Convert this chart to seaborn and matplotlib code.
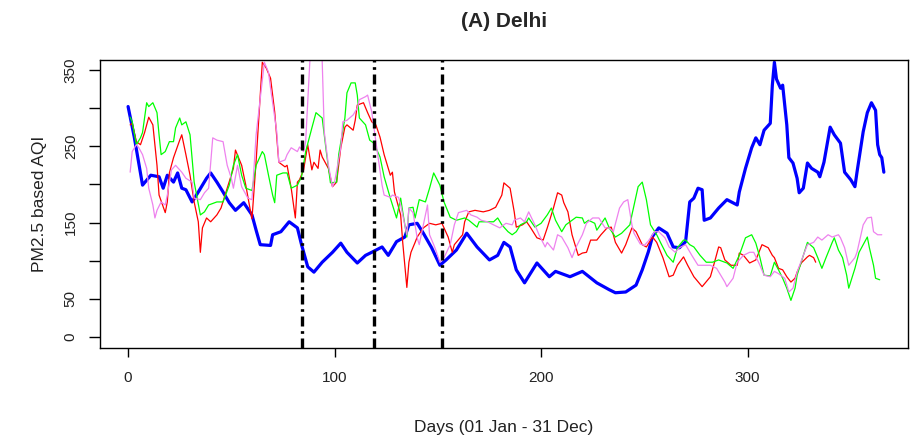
import matplotlib
matplotlib.use("Agg")
import matplotlib.pyplot as plt
import seaborn as sns
import pandas as pd

# Daily PM2.5 based AQI, Delhi (day of year, AQI)
blue_days = [0, 3, 7, 11, 15, 17, 19, 22, 24, 26, 28, 31, 34, 38, 40, 43, 46, 49, 52, 56,
             60, 62, 64, 69, 70, 74, 78, 82, 84, 87, 90, 94, 99, 103, 106, 111, 115, 118, 123, 126,
             130, 134, 136, 140, 143, 147, 151, 154, 159, 164, 169, 175, 179, 182, 185, 188, 192, 198, 204, 207,
             214, 220, 227, 233, 236, 241, 246, 249, 252, 254, 257, 261, 264, 267, 270, 272, 274, 276, 278, 279,
             282, 286, 290, 295, 296, 299, 302, 304, 306, 308, 311, 312, 313, 314, 316, 317, 319, 320, 322, 324,
             325, 327, 329, 331, 334, 335, 337, 340, 342, 345, 347, 350, 352, 353, 356, 358, 360, 362, 363, 364,
             365, 366]
blue_aqi = [302, 262, 199, 212, 210, 195, 212, 203, 215, 195, 193, 177, 190, 208, 215, 203, 190, 176, 166, 176,
            160, 140, 121, 120, 134, 138, 151, 143, 121, 92, 85, 98, 111, 123, 111, 97, 107, 111, 118, 107,
            125, 131, 147, 149, 136, 117, 94, 101, 114, 136, 118, 101, 107, 124, 118, 88, 71, 97, 79, 86,
            79, 86, 71, 62, 58, 59, 68, 88, 112, 132, 143, 136, 118, 117, 125, 177, 182, 195, 193, 153,
            156, 169, 180, 173, 190, 221, 248, 261, 252, 271, 280, 330, 360, 338, 326, 330, 278, 235, 228, 208,
            189, 195, 228, 221, 216, 210, 229, 275, 265, 254, 216, 206, 197, 216, 269, 294, 307, 297, 252, 239,
            235, 216]

red_days = [1, 2, 4, 6, 8, 10, 12, 14, 15, 18, 19, 20, 22, 25, 26, 28, 30, 32, 34, 35,
            36, 38, 40, 43, 45, 48, 51, 52, 55, 57, 59, 60, 62, 64, 65, 67, 69, 71, 73, 76,
            77, 79, 81, 82, 83, 85, 87, 89, 90, 92, 93, 94, 97, 99, 101, 103, 105, 106, 109, 110,
            111, 114, 116, 118, 120, 122, 124, 127, 128, 129, 132, 133, 135, 136, 137, 139, 140, 143, 146, 149,
            152, 155, 157, 158, 162, 163, 165, 168, 172, 175, 178, 181, 182, 185, 187, 188, 191, 193, 195, 198,
            201, 203, 206, 208, 210, 211, 213, 215, 218, 220, 222, 224, 227, 229, 232, 234, 236, 239, 241, 244,
            246, 249, 251, 254, 256, 259, 262, 264, 266, 269, 271, 274, 278, 282, 284, 286, 287, 289, 292, 295,
            296, 298, 301, 304, 307, 310, 312, 313, 315, 317, 319, 321, 323, 324, 326, 329, 330, 332, 333]
red_aqi = [278, 280, 256, 252, 268, 288, 278, 225, 186, 163, 177, 215, 235, 258, 265, 239, 212, 177, 151, 111,
           143, 156, 151, 160, 169, 195, 221, 245, 225, 199, 169, 155, 230, 317, 360, 352, 339, 295, 229, 223,
           225, 195, 156, 203, 206, 219, 252, 219, 229, 221, 245, 236, 221, 197, 203, 248, 275, 278, 271, 284,
           304, 307, 294, 282, 278, 262, 239, 212, 216, 190, 160, 124, 65, 98, 111, 124, 131, 143, 149, 147,
           149, 131, 111, 121, 134, 151, 164, 166, 164, 166, 170, 186, 202, 195, 164, 144, 147, 151, 143, 130,
           127, 143, 169, 189, 186, 176, 164, 134, 107, 110, 111, 127, 127, 134, 143, 144, 124, 110, 121, 143,
           138, 121, 118, 131, 124, 104, 79, 81, 94, 105, 94, 79, 66, 79, 98, 118, 117, 101, 94, 94,
           110, 107, 97, 101, 121, 117, 107, 104, 90, 88, 79, 72, 77, 85, 97, 105, 107, 104, 98]

green_days = [1, 2, 4, 6, 7, 9, 10, 12, 14, 15, 16, 18, 20, 22, 23, 25, 26, 28, 30, 32,
              35, 37, 39, 43, 46, 49, 51, 53, 55, 57, 60, 62, 65, 66, 68, 70, 71, 72, 75, 77,
              79, 82, 84, 86, 89, 91, 94, 96, 98, 101, 102, 105, 106, 108, 110, 111, 112, 115, 117, 119,
              122, 124, 127, 130, 132, 133, 135, 136, 138, 139, 141, 144, 146, 148, 151, 153, 156, 159, 163, 165,
              169, 170, 174, 177, 179, 181, 184, 186, 188, 190, 193, 194, 197, 200, 203, 205, 207, 210, 212, 215,
              217, 220, 221, 223, 226, 227, 231, 233, 236, 239, 243, 244, 247, 249, 251, 253, 256, 258, 261, 264,
              266, 269, 270, 272, 274, 277, 280, 283, 286, 290, 293, 296, 299, 302, 304, 306, 308, 311, 313, 315,
              317, 319, 321, 323, 324, 327, 329, 332, 334, 336, 338, 341, 342, 344, 346, 348, 349, 352, 354, 358,
              359, 361, 362, 364]
green_aqi = [288, 282, 252, 261, 268, 307, 302, 307, 294, 265, 239, 243, 256, 256, 274, 287, 278, 282, 265, 203,
             160, 164, 173, 177, 177, 199, 225, 239, 212, 195, 192, 225, 243, 239, 212, 186, 176, 212, 215, 215,
             195, 199, 210, 243, 274, 294, 287, 243, 202, 203, 239, 287, 320, 333, 333, 317, 287, 278, 258, 254,
             236, 210, 182, 156, 182, 164, 131, 169, 170, 156, 180, 177, 195, 215, 199, 177, 157, 153, 156, 153,
             144, 151, 151, 151, 156, 147, 138, 134, 138, 147, 151, 156, 144, 149, 160, 169, 153, 138, 147, 153,
             157, 156, 149, 153, 149, 140, 156, 143, 131, 136, 147, 160, 197, 203, 180, 147, 134, 123, 107, 98,
             117, 127, 127, 121, 118, 107, 98, 98, 101, 97, 90, 107, 130, 134, 123, 104, 81, 80, 98, 88,
             77, 64, 48, 64, 81, 107, 124, 117, 104, 90, 104, 124, 130, 114, 104, 81, 64, 90, 111, 131,
             117, 94, 77, 75]

violet_days = [1, 2, 4, 5, 7, 9, 10, 12, 13, 14, 16, 18, 19, 21, 23, 26, 28, 31, 32, 35,
               37, 39, 41, 43, 46, 48, 50, 51, 53, 55, 58, 60, 62, 64, 66, 68, 69, 72, 73, 76,
               77, 79, 82, 83, 85, 86, 88, 89, 91, 93, 94, 95, 97, 99, 100, 103, 104, 106, 109, 111,
               112, 115, 116, 118, 120, 123, 124, 127, 128, 131, 132, 135, 136, 138, 140, 141, 144, 145, 146, 148,
               149, 151, 153, 156, 158, 160, 164, 166, 169, 171, 174, 177, 180, 183, 186, 187, 190, 192, 194, 197,
               199, 202, 203, 206, 208, 210, 213, 215, 217, 220, 222, 225, 228, 231, 233, 235, 238, 240, 242, 244,
               245, 248, 250, 252, 255, 257, 260, 262, 265, 267, 270, 273, 276, 279, 282, 285, 289, 290, 293, 295,
               298, 301, 303, 306, 308, 311, 313, 315, 318, 320, 322, 324, 327, 329, 332, 334, 336, 339, 341, 344,
               345, 347, 349, 352, 353, 356, 358, 360, 361, 363, 365]
violet_aqi = [216, 243, 252, 249, 239, 221, 195, 173, 156, 166, 177, 173, 186, 219, 225, 216, 208, 203, 182, 180,
              189, 195, 261, 258, 256, 225, 208, 195, 225, 197, 182, 180, 265, 313, 360, 347, 326, 269, 229, 232,
              239, 248, 243, 249, 243, 256, 360, 395, 410, 385, 362, 269, 225, 197, 203, 248, 282, 284, 291, 300,
              311, 315, 317, 295, 256, 199, 186, 183, 186, 183, 173, 134, 169, 163, 130, 121, 160, 173, 134, 121,
              114, 98, 104, 121, 147, 163, 166, 160, 157, 153, 151, 147, 143, 149, 147, 153, 156, 151, 164, 147,
              134, 118, 124, 114, 134, 131, 117, 104, 118, 134, 149, 156, 156, 143, 143, 138, 169, 177, 180, 147,
              136, 122, 120, 126, 138, 138, 130, 118, 111, 117, 121, 107, 94, 94, 94, 90, 72, 66, 77, 98,
              107, 111, 111, 94, 81, 79, 86, 83, 77, 59, 64, 85, 107, 121, 124, 131, 127, 134, 131, 134,
              130, 117, 94, 104, 111, 147, 156, 157, 138, 134, 134]

# Phase boundaries (day of year)
phase_days = [84, 119, 152]

x_ticks = [0, 100, 200, 300]
y_ticks = [0, 50, 100, 150, 200, 250, 300, 350]
y_tick_labels = ["0", "50", "", "150", "", "250", "", "350"]

sns.set_style("white")
plt.rcParams["font.family"] = ["Liberation Sans", "DejaVu Sans"]

fig = plt.figure(figsize=(9.12, 4.41), dpi=100)
ax = fig.add_axes([100 / 912, 1 - 348 / 441, 808 / 912, 288 / 441])

series = [
    (blue_days, blue_aqi, "#0000FF", 2.3),
    (red_days, red_aqi, "#FF0000", 0.9),
    (green_days, green_aqi, "#00FF00", 0.9),
    (violet_days, violet_aqi, "#EE82EE", 0.9),
]
for days, aqi, colour, lw in series:
    df = pd.DataFrame({"day": days, "aqi": aqi})
    sns.lineplot(data=df, x="day", y="aqi", color=colour, linewidth=lw,
                 estimator=None, ax=ax)

for d in phase_days:
    ax.axvline(d, color="black", linewidth=2.4, dashes=(3.0, 1.4, 0.8, 1.4))

ax.set_xlim(-13.6, 377.7)
ax.set_ylim(-14.4, 363)

ax.set_xticks(x_ticks)
ax.set_xticklabels([str(t) for t in x_ticks])
ax.set_yticks(y_ticks)
ax.set_yticklabels(y_tick_labels, rotation=90, va="center")

ax.tick_params(axis="x", bottom=True, direction="out", length=6.5, width=1,
               color="black", pad=10, labelsize=11, labelcolor="#222222")
ax.tick_params(axis="y", left=True, direction="out", length=8, width=1,
               color="black", pad=8, labelsize=11, labelcolor="#222222")

for s in ax.spines.values():
    s.set_visible(True)
    s.set_color("black")
    s.set_linewidth(1.0)

ax.set_xlabel("Days (01 Jan - 31 Dec)", fontsize=12.5, color="#222222")
ax.set_ylabel("PM2.5 based AQI", fontsize=12.5, color="#222222")
ax.xaxis.set_label_coords(0.5, -0.25)
ax.yaxis.set_label_coords(-0.066, 0.5)

ax.set_title("(A) Delhi", fontsize=15, fontweight="bold", pad=24)

fig.savefig("out.png", dpi=100)
